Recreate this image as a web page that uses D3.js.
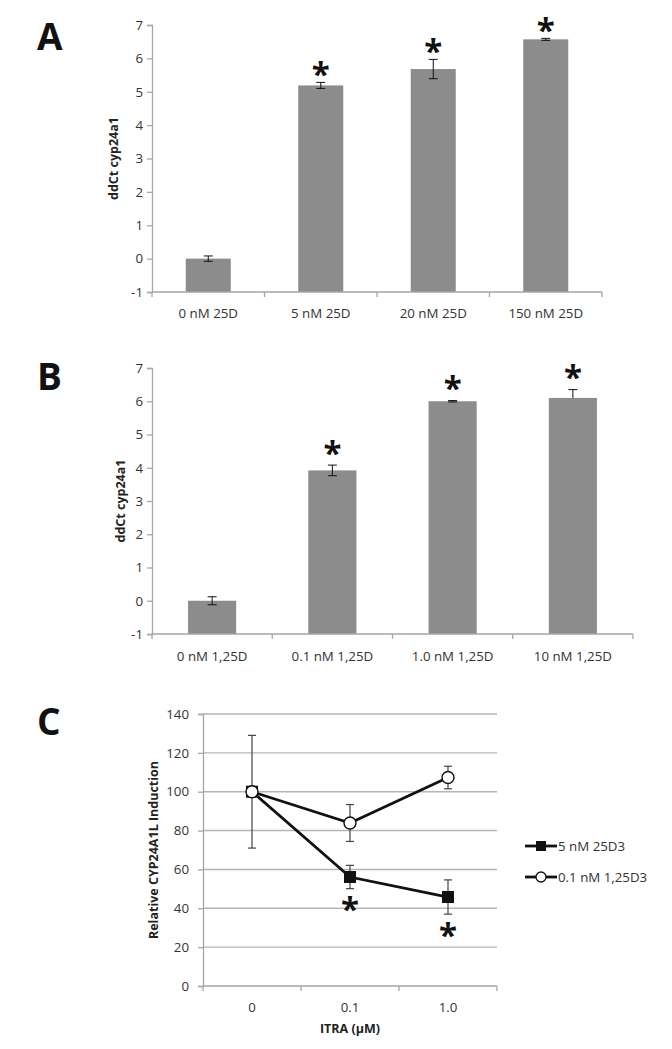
<!DOCTYPE html>
<html>
<head>
<meta charset="utf-8">
<script src="https://cdn.jsdelivr.net/npm/d3@7"></script>
<style>
  html, body { margin: 0; padding: 0; background: #fff; }
  svg { display: block; }
  text { font-family: "Open Sans", "Liberation Sans", sans-serif; }
</style>
</head>
<body>
<svg id="chart" width="672" height="1049"></svg>
<script>
// ---------- DATA ----------
const catsA = ["0 nM 25D", "5 nM 25D", "20 nM 25D", "150 nM 25D"];
const valsA = [0, 5.19, 5.68, 6.57];
const errA  = [0.08, 0.09, 0.29, 0.03];
const sigA  = [false, true, true, true];

const catsB = ["0 nM 1,25D", "0.1 nM 1,25D", "1.0 nM 1,25D", "10 nM 1,25D"];
const valsB = [0, 3.92, 6.0, 6.1];
const errUpB   = [0.12, 0.16, 0.02, 0.25];
const errDownB = [0.12, 0.16, 0.02, 0.0];
const sigB  = [false, true, true, true];

const barTicks = [-1, 0, 1, 2, 3, 4, 5, 6, 7];

const doseC = ["0", "0.1", "1.0"];
const series25D3 = [100, 56.1, 45.8];
const err25D3    = [29, 6.0, 8.8];
const sig25D3    = [false, true, true];
const series125D3 = [100, 83.9, 107.3];
const err125D3    = [0, 9.5, 5.8];
const ticksC = [0, 20, 40, 60, 80, 100, 120, 140];
const legendC = ["5 nM 25D3", "0.1 nM 1,25D3"];

// ---------- SETUP ----------
const svg = d3.select("#chart");
const axisColor = "#a6a6a6";
const textColor = "#333";
const barColor = "#8c8c8c";
const fontSize = 13.3;

function panelLetter(letter, x, y) {
  svg.append("text").attr("x", x).attr("y", y)
    .attr("font-family", "'Liberation Sans', Arial, sans-serif")
    .attr("font-weight", "bold").attr("font-size", 37).attr("fill", "#111")
    .text(letter);
}

function asterisk(g, cx, cy) {
  g.append("text").attr("x", cx).attr("y", cy)
    .attr("text-anchor", "middle")
    .attr("dy", "0.62em")
    .attr("font-family", "'DejaVu Sans', sans-serif")
    .attr("font-weight", "bold").attr("font-size", 33).attr("fill", "#111")
    .text("*");
}

function barPanel(opts) {
  const { cats, vals, errUp, errDown, sig, x0, x1, yTop, yBot, titleX, labelY, starGap } = opts;
  const x = d3.scaleBand().domain(cats).range([x0, x1]).paddingInner(0.6).paddingOuter(0.3);
  const xEdge = d3.scaleBand().domain(cats).range([x0, x1]).padding(0);
  const y = d3.scaleLinear().domain([-1, 7]).range([yBot, yTop]);
  const g = svg.append("g");

  // y axis
  const ya = d3.axisLeft(y).tickValues(barTicks).tickSize(5).tickPadding(4).tickFormat(d => String(d));
  const yg = g.append("g").attr("transform", `translate(${x0},0)`).call(ya);
  yg.select(".domain").attr("stroke", axisColor).attr("stroke-width", 1.3);
  yg.selectAll(".tick line").attr("stroke", axisColor).attr("stroke-width", 1.3);
  yg.selectAll(".tick text").attr("font-size", fontSize).attr("fill", textColor)
    .attr("font-family", "'Open Sans', sans-serif");

  // bars (Excel draws from the axis minimum, -1)
  g.selectAll("rect.bar").data(cats).enter().append("rect")
    .attr("class", "bar")
    .attr("x", d => x(d)).attr("width", x.bandwidth())
    .attr("y", (d, i) => y(vals[i]))
    .attr("height", (d, i) => y(-1) - y(vals[i]))
    .attr("fill", barColor);

  // x axis line at -1
  g.append("line").attr("x1", x0).attr("x2", x1).attr("y1", y(-1)).attr("y2", y(-1))
    .attr("stroke", axisColor).attr("stroke-width", 1.3);
  const edges = cats.map(c => xEdge(c)).concat([x1]);
  g.selectAll("line.xt").data(edges).enter().append("line")
    .attr("x1", d => d).attr("x2", d => d).attr("y1", y(-1)).attr("y2", y(-1) + 5)
    .attr("stroke", axisColor).attr("stroke-width", 1.3);

  // category labels
  g.selectAll("text.cat").data(cats).enter().append("text")
    .attr("x", d => x(d) + x.bandwidth() / 2).attr("y", labelY)
    .attr("text-anchor", "middle").attr("font-size", fontSize).attr("fill", textColor)
    .text(d => d);

  // error bars
  cats.forEach((c, i) => {
    const cx = x(c) + x.bandwidth() / 2;
    const top = y(vals[i] + errUp[i]);
    const bot = y(vals[i] - errDown[i]);
    g.append("line").attr("x1", cx).attr("x2", cx).attr("y1", top).attr("y2", bot)
      .attr("stroke", "#111").attr("stroke-width", 1);
    g.append("line").attr("x1", cx - 4.5).attr("x2", cx + 4.5).attr("y1", top).attr("y2", top)
      .attr("stroke", "#111").attr("stroke-width", 1);
    if (errDown[i] > 0) {
      g.append("line").attr("x1", cx - 4.5).attr("x2", cx + 4.5).attr("y1", bot).attr("y2", bot)
        .attr("stroke", "#111").attr("stroke-width", 1);
    }
    if (sig[i]) asterisk(g, cx, top - starGap);
  });

  // y title
  g.append("text")
    .attr("transform", `translate(${titleX},${(yTop + yBot) / 2}) rotate(-90)`)
    .attr("text-anchor", "middle").attr("dy", "0.35em")
    .attr("font-size", 12.5).attr("font-weight", "bold").attr("fill", "#222")
    .text("ddCt cyp24a1");
}

panelLetter("A", 37, 50);
barPanel({ cats: catsA, vals: valsA, errUp: errA, errDown: errA, sig: sigA,
  x0: 152, x1: 602, yTop: 25, yBot: 292, titleX: 114, labelY: 318, starGap: 17 });

panelLetter("B", 37, 390);
barPanel({ cats: catsB, vals: valsB, errUp: errUpB, errDown: errDownB, sig: sigB,
  x0: 152, x1: 633, yTop: 368, yBot: 634, titleX: 121, labelY: 661, starGap: 21 });

// ---------- PANEL C ----------
panelLetter("C", 37, 735);
(function () {
  const x0 = 203, x1 = 497, yTop = 714, yBot = 986;
  const x = d3.scalePoint().domain(doseC).range([x0, x1]).padding(0.5);
  const xEdge = d3.scaleBand().domain(doseC).range([x0, x1]).padding(0);
  const y = d3.scaleLinear().domain([0, 140]).range([yBot, yTop]);
  const g = svg.append("g");

  // gridlines
  g.selectAll("line.grid").data(ticksC.filter(t => t > 0)).enter().append("line")
    .attr("x1", x0).attr("x2", x1).attr("y1", d => y(d)).attr("y2", d => y(d))
    .attr("stroke", "#b5b5b5").attr("stroke-width", 1.4);

  const ya = d3.axisLeft(y).tickValues(ticksC).tickSize(5).tickPadding(9);
  const yg = g.append("g").attr("transform", `translate(${x0},0)`).call(ya);
  yg.select(".domain").attr("stroke", axisColor).attr("stroke-width", 1.3);
  yg.selectAll(".tick line").attr("stroke", axisColor).attr("stroke-width", 1.3);
  yg.selectAll(".tick text").attr("font-size", fontSize).attr("fill", textColor)
    .attr("font-family", "'Open Sans', sans-serif");

  g.append("line").attr("x1", x0).attr("x2", x1).attr("y1", y(0)).attr("y2", y(0))
    .attr("stroke", axisColor).attr("stroke-width", 1.3);
  const edges = doseC.map(c => xEdge(c)).concat([x1]);
  g.selectAll("line.xt").data(edges).enter().append("line")
    .attr("x1", d => d).attr("x2", d => d).attr("y1", y(0)).attr("y2", y(0) + 5)
    .attr("stroke", axisColor).attr("stroke-width", 1.3);

  g.selectAll("text.cat").data(doseC).enter().append("text")
    .attr("x", d => x(d)).attr("y", 1012)
    .attr("text-anchor", "middle").attr("font-size", fontSize).attr("fill", textColor)
    .text(d => d);

  g.append("text").attr("x", (x0 + x1) / 2).attr("y", 1033)
    .attr("text-anchor", "middle").attr("font-size", 12.5).attr("font-weight", "bold").attr("fill", "#222")
    .text("ITRA (µM)");

  g.append("text")
    .attr("transform", `translate(154,${(yTop + yBot) / 2}) rotate(-90)`)
    .attr("text-anchor", "middle").attr("dy", "0.35em")
    .attr("font-size", 12.5).attr("font-weight", "bold").attr("fill", "#222")
    .text("Relative CYP24A1L Induction");

  const line = d3.line().x((d, i) => x(doseC[i])).y(d => y(d));

  function errBars(vals, errs) {
    vals.forEach((v, i) => {
      if (!errs[i]) return;
      const cx = x(doseC[i]);
      const top = y(v + errs[i]), bot = y(v - errs[i]);
      g.append("line").attr("x1", cx).attr("x2", cx).attr("y1", top).attr("y2", bot)
        .attr("stroke", "#444").attr("stroke-width", 1.2);
      [top, bot].forEach(yy => g.append("line").attr("x1", cx - 4).attr("x2", cx + 4)
        .attr("y1", yy).attr("y2", yy).attr("stroke", "#444").attr("stroke-width", 1.2));
    });
  }

  // lines
  g.append("path").attr("d", line(series25D3)).attr("fill", "none")
    .attr("stroke", "#111").attr("stroke-width", 2.8);
  g.append("path").attr("d", line(series125D3)).attr("fill", "none")
    .attr("stroke", "#111").attr("stroke-width", 2.8);

  errBars(series25D3, err25D3);
  errBars(series125D3, err125D3);

  // markers: squares
  g.selectAll("rect.sq").data(series25D3).enter().append("rect")
    .attr("x", (d, i) => x(doseC[i]) - 6).attr("y", d => y(d) - 6)
    .attr("width", 12).attr("height", 12).attr("fill", "#111");
  // circles
  g.selectAll("circle.ci").data(series125D3).enter().append("circle")
    .attr("cx", (d, i) => x(doseC[i])).attr("cy", d => y(d)).attr("r", 6)
    .attr("fill", "#fff").attr("stroke", "#111").attr("stroke-width", 1.4);

  // significance
  series25D3.forEach((v, i) => {
    if (sig25D3[i]) asterisk(g, x(doseC[i]), y(v - err25D3[i]) + 12);
  });

  // legend
  const lg = g.append("g");
  const ly = [846, 877];
  legendC.forEach((name, i) => {
    lg.append("line").attr("x1", 525).attr("x2", 557).attr("y1", ly[i]).attr("y2", ly[i])
      .attr("stroke", "#111").attr("stroke-width", 2.8);
    if (i === 0) {
      lg.append("rect").attr("x", 536).attr("y", ly[i] - 5).attr("width", 10).attr("height", 10).attr("fill", "#111");
    } else {
      lg.append("circle").attr("cx", 541).attr("cy", ly[i]).attr("r", 5)
        .attr("fill", "#fff").attr("stroke", "#111").attr("stroke-width", 1.3);
    }
    lg.append("text").attr("x", 558).attr("y", ly[i]).attr("dy", "0.35em")
      .attr("font-size", fontSize).attr("fill", textColor).text(name);
  });
})();
</script>
</body>
</html>
